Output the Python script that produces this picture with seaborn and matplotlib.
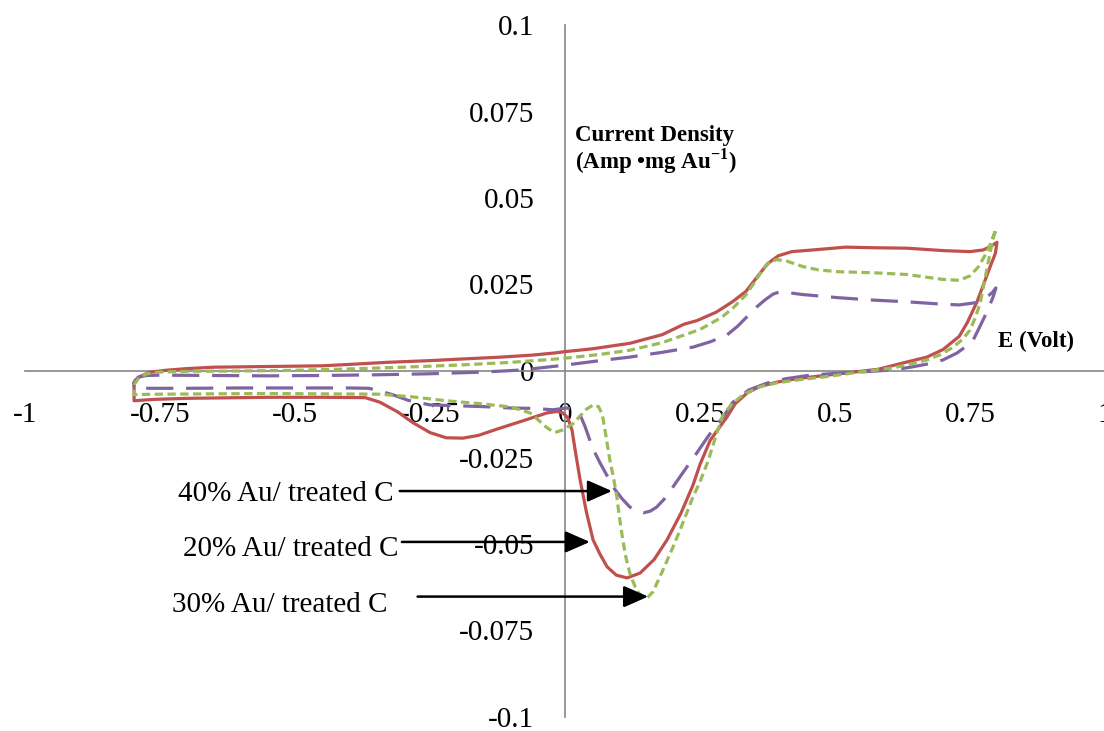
import matplotlib
matplotlib.use("Agg")
import matplotlib.pyplot as plt
import seaborn as sns
import pandas as pd

# ---------------- data ----------------
red_E = [-0.798, -0.790, -0.770, -0.740, -0.700, -0.650, -0.600, -0.500, -0.450, -0.400,
         -0.330, -0.250, -0.200, -0.120, -0.060, -0.020, 0.000, 0.050, 0.120, 0.180,
         0.220, 0.245, 0.280, 0.310, 0.335, 0.355, 0.375, 0.395, 0.420, 0.460,
         0.520, 0.580, 0.633, 0.700, 0.750, 0.775, 0.790, 0.800,
         0.797, 0.787, 0.775, 0.763, 0.745, 0.730, 0.700, 0.670, 0.633, 0.580,
         0.530, 0.485, 0.430, 0.393, 0.360, 0.337, 0.315, 0.300, 0.285, 0.269,
         0.250, 0.237, 0.215, 0.189, 0.165, 0.139, 0.115, 0.095, 0.078, 0.065,
         0.052, 0.040, 0.028, 0.020, 0.013, 0.005, -0.004, -0.015, -0.033, -0.080,
         -0.126, -0.160, -0.189, -0.220, -0.250, -0.281, -0.310, -0.343, -0.370, -0.450,
         -0.550, -0.650, -0.700, -0.760, -0.798, -0.798]
red_I = [-0.0035, -0.0018, -0.0004, 0.0002, 0.0007, 0.0011, 0.0012, 0.0014, 0.0015, 0.0019,
         0.0025, 0.0030, 0.0034, 0.0040, 0.0046, 0.0052, 0.0056, 0.0064, 0.0080, 0.0105,
         0.0135, 0.0146, 0.0170, 0.0200, 0.0230, 0.0270, 0.0310, 0.0333, 0.0345, 0.0350,
         0.0358, 0.0356, 0.0355, 0.0348, 0.0345, 0.0350, 0.0362, 0.0372,
         0.0340, 0.0300, 0.0250, 0.0200, 0.0140, 0.0100, 0.0062, 0.0040, 0.0026, 0.0005,
         -0.0004, -0.0012, -0.0022, -0.0032, -0.0045, -0.0064, -0.0095, -0.0133, -0.0165, -0.0200,
         -0.0270, -0.0330, -0.0410, -0.0488, -0.0545, -0.0584, -0.0598, -0.0590, -0.0566, -0.0530,
         -0.0488, -0.0410, -0.0315, -0.0240, -0.0171, -0.0135, -0.0121, -0.0117, -0.0121, -0.0145,
         -0.0168, -0.0186, -0.0194, -0.0193, -0.0178, -0.0150, -0.0118, -0.0090, -0.0077, -0.0076,
         -0.0076, -0.0078, -0.0079, -0.0082, -0.0086, -0.0035]

green_E = [-0.798, -0.790, -0.775, -0.750, -0.700, -0.600, -0.500, -0.400, -0.300, -0.200,
           -0.100, -0.030, 0.000, 0.065, 0.120, 0.180, 0.250, 0.290, 0.313, 0.335,
           0.350, 0.365, 0.378, 0.392, 0.410, 0.440, 0.470, 0.505, 0.570, 0.633,
           0.698, 0.730, 0.750, 0.765, 0.780, 0.790, 0.798,
           0.793, 0.787, 0.781, 0.775, 0.769, 0.760, 0.750, 0.735, 0.719, 0.695,
           0.670, 0.640, 0.607, 0.546, 0.485, 0.430, 0.393, 0.360, 0.330, 0.310,
           0.293, 0.281, 0.265, 0.250, 0.237, 0.218, 0.200, 0.180, 0.163, 0.152,
           0.140, 0.133, 0.125, 0.120, 0.113, 0.107, 0.101, 0.096, 0.090, 0.083,
           0.075, 0.069, 0.062, 0.052, 0.040, 0.028, 0.015, -0.004, -0.015, -0.022,
           -0.035, -0.052, -0.065, -0.100, -0.160, -0.220, -0.281, -0.343, -0.450,
           -0.550, -0.650, -0.750, -0.798, -0.798]
green_I = [-0.0040, -0.0022, -0.0008, -0.0003, -0.0001, 0.0000, 0.0002, 0.0006, 0.0011, 0.0017,
           0.0025, 0.0033, 0.0037, 0.0048, 0.0060, 0.0082, 0.0120, 0.0155, 0.0185, 0.0220,
           0.0254, 0.0290, 0.0313, 0.0322, 0.0318, 0.0302, 0.0292, 0.0287, 0.0284, 0.0279,
           0.0265, 0.0262, 0.0275, 0.0300, 0.0340, 0.0375, 0.0410,
           0.0385, 0.0340, 0.0292, 0.0245, 0.0197, 0.0155, 0.0118, 0.0090, 0.0069, 0.0047,
           0.0032, 0.0020, 0.0009, -0.0003, -0.0016, -0.0026, -0.0034, -0.0046, -0.0068, -0.0095,
           -0.0125, -0.0180, -0.0260, -0.0320, -0.0364, -0.0440, -0.0509, -0.0580, -0.0638, -0.0656,
           -0.0648, -0.0635, -0.0605, -0.0584, -0.0540, -0.0488, -0.0425, -0.0364, -0.0310, -0.0257,
           -0.0180, -0.0125, -0.0103, -0.0098, -0.0110, -0.0130, -0.0152, -0.0170, -0.0176, -0.0176,
           -0.0162, -0.0138, -0.0121, -0.0104, -0.0094, -0.0086, -0.0075, -0.0067, -0.0066,
           -0.0065, -0.0066, -0.0067, -0.0068, -0.0040]

purple_E = [-0.798, -0.790, -0.775, -0.750, -0.650, -0.550, -0.450, -0.350, -0.250, -0.150,
            -0.080, 0.000, 0.065, 0.119, 0.180, 0.237, 0.270, 0.300, 0.320, 0.339,
            0.355, 0.370, 0.385, 0.396, 0.415, 0.440, 0.505, 0.570, 0.633, 0.700,
            0.730, 0.763, 0.780, 0.792, 0.798,
            0.793, 0.784, 0.774, 0.765, 0.756, 0.740, 0.726, 0.700, 0.681, 0.640,
            0.607, 0.546, 0.500, 0.454, 0.410, 0.374, 0.340, 0.324, 0.311, 0.293,
            0.269, 0.244, 0.220, 0.200, 0.185, 0.170, 0.158, 0.145, 0.132, 0.120,
            0.105, 0.089, 0.077, 0.065, 0.055, 0.046, 0.037, 0.028, 0.015, 0.003,
            -0.022, -0.060, -0.100, -0.150, -0.250, -0.290, -0.320, -0.343,
            -0.363, -0.400, -0.500, -0.600, -0.700, -0.770, -0.798, -0.798]
purple_I = [-0.0030, -0.0018, -0.0013, -0.0012, -0.0013, -0.0014, -0.0013, -0.0011, -0.0008, -0.0003,
            0.0003, 0.0017, 0.0030, 0.0040, 0.0054, 0.0069, 0.0085, 0.0104, 0.0130, 0.0160,
            0.0185, 0.0205, 0.0222, 0.0228, 0.0226, 0.0221, 0.0212, 0.0205, 0.0200, 0.0193,
            0.0191, 0.0198, 0.0212, 0.0228, 0.0240,
            0.0215, 0.0180, 0.0147, 0.0118, 0.0090, 0.0068, 0.0052, 0.0032, 0.0023, 0.0011,
            0.0003, -0.0003, -0.0007, -0.0012, -0.0022, -0.0035, -0.0055, -0.0075, -0.0090, -0.0133,
            -0.0180, -0.0237, -0.0290, -0.0335, -0.0368, -0.0393, -0.0405, -0.0410, -0.0405, -0.0393,
            -0.0368, -0.0335, -0.0300, -0.0266, -0.0235, -0.0200, -0.0160, -0.0127, -0.0110, -0.0107,
            -0.0112, -0.0108, -0.0107, -0.0103, -0.0098, -0.0085, -0.0068, -0.0058,
            -0.0050, -0.0049, -0.0049, -0.0049, -0.0050, -0.0050, -0.0048, -0.0030]

x_ticks = [-1, -0.75, -0.5, -0.25, 0, 0.25, 0.5, 0.75, 1]
x_tick_labels = ["-1", "-0.75", "-0.5", "-0.25", "0", "0.25", "0.5", "0.75", "1"]
y_ticks = [-0.1, -0.075, -0.05, -0.025, 0, 0.025, 0.05, 0.075, 0.1]
y_tick_labels = ["-0.1", "-0.075", "-0.05", "-0.025", "0", "0.025", "0.05", "0.075", "0.1"]

labels = ["40% Au/ treated C", "20% Au/ treated C", "30% Au/ treated C"]

# ---------------- style ----------------
sns.set_theme(style="white")
plt.rcParams["font.family"] = ["Liberation Serif", "DejaVu Serif"]
plt.rcParams["mathtext.fontset"] = "custom"
plt.rcParams["mathtext.rm"] = "Liberation Serif"
plt.rcParams["mathtext.bf"] = "Liberation Serif:bold"
plt.rcParams["axes.unicode_minus"] = False
plt.rcParams["text.color"] = "black"

RED = "#C0504D"
GREEN = "#9BBB59"
PURPLE = "#8064A2"
AXIS = "#868686"

fig = plt.figure(figsize=(11.04, 7.31), dpi=100)
ax = fig.add_axes([25 / 1104, 14 / 731, 1080 / 1104, 692 / 731])
ax.set_facecolor("white")

df_r = pd.DataFrame({"E": red_E, "I": red_I})
df_g = pd.DataFrame({"E": green_E, "I": green_I})
df_p = pd.DataFrame({"E": purple_E, "I": purple_I})

sns.lineplot(data=df_r, x="E", y="I", sort=False, estimator=None, ax=ax,
             color=RED, linewidth=2.3, linestyle="-", zorder=3)
sns.lineplot(data=df_p, x="E", y="I", sort=False, estimator=None, ax=ax,
             color=PURPLE, linewidth=2.3, linestyle=(0, (8.5, 4)), zorder=4)
sns.lineplot(data=df_g, x="E", y="I", sort=False, estimator=None, ax=ax,
             color=GREEN, linewidth=2.3, linestyle=(0, (2.6, 1.4)), zorder=5)

ax.set_xlim(-1, 1)
ax.set_ylim(-0.1, 0.1)
ax.set_xlabel("")
ax.set_ylabel("")

for s in ["top", "right"]:
    ax.spines[s].set_visible(False)
ax.spines["left"].set_position(("data", 0))
ax.spines["bottom"].set_position(("data", 0))
for s in ["left", "bottom"]:
    ax.spines[s].set_color(AXIS)
    ax.spines[s].set_linewidth(1.2)
    ax.spines[s].set_zorder(1)

ax.set_xticks(x_ticks)
ax.set_xticklabels(x_tick_labels)
ax.set_yticks(y_ticks)
ax.set_yticklabels(y_tick_labels)
ax.tick_params(axis="both", length=0, labelsize=21, labelcolor="black", pad=22)
ax.grid(False)

# axis titles
title_kw = dict(fontsize=16.5, fontweight="bold", color="black", ha="left", va="baseline")
ax.text(0.0185, 0.0665, "Current Density", **title_kw)
ax.text(0.0185, 0.0584, r"(Amp •mg Au$^{\mathbf{-1}}$)", **title_kw)
ax.text(0.802, 0.0069, "E (Volt)", **title_kw)

# annotations with arrows
arrow_kw = dict(arrowstyle="-|>,head_length=0.5,head_width=0.22", color="black",
                lw=1.8, shrinkA=0, shrinkB=0, mutation_scale=30)
txt_kw = dict(fontsize=21, ha="left", va="baseline", color="black")
ax.text(-0.717, -0.0376, labels[0], **txt_kw)
ax.annotate("", xy=(0.087, -0.0347), xytext=(-0.306, -0.0347), arrowprops=arrow_kw, zorder=6)
ax.text(-0.707, -0.0535, labels[1], **txt_kw)
ax.annotate("", xy=(0.046, -0.0494), xytext=(-0.302, -0.0494), arrowprops=arrow_kw, zorder=6)
ax.text(-0.728, -0.0697, labels[2], **txt_kw)
ax.annotate("", xy=(0.154, -0.0652), xytext=(-0.273, -0.0652), arrowprops=arrow_kw, zorder=6)

fig.savefig("out.png", dpi=100, facecolor="white")
